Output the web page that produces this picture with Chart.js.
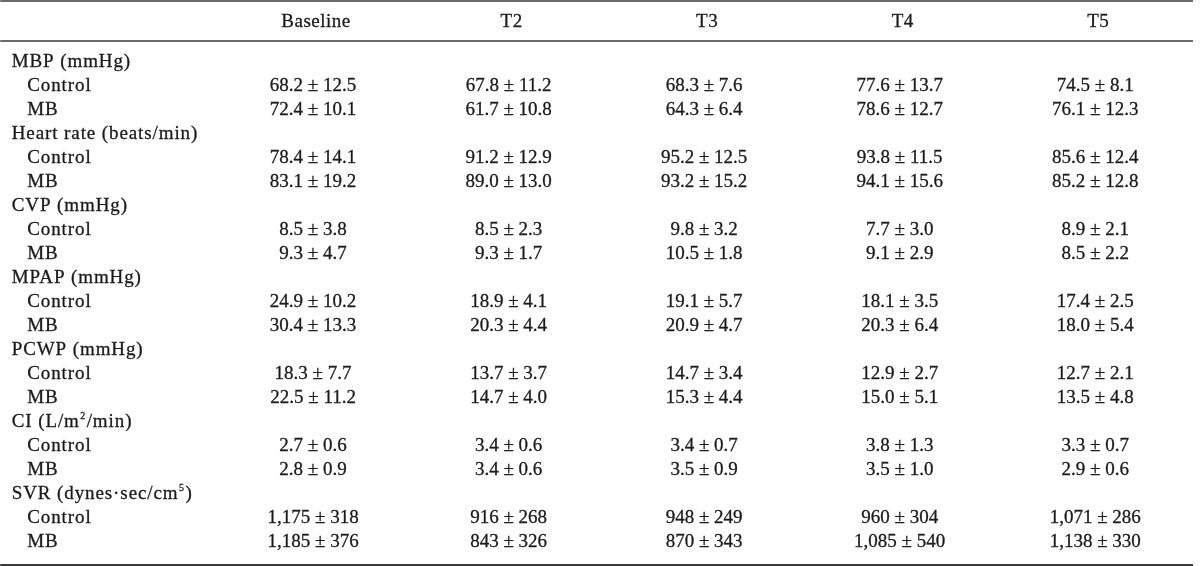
<!DOCTYPE html>
<html><head><meta charset="utf-8">
<script src="https://cdn.jsdelivr.net/npm/chart.js@4.4.1/dist/chart.umd.min.js"></script>
<style>html,body{margin:0;padding:0;background:#fff;}#wrap{width:1200px;height:566px;position:relative;}</style>
</head><body><div id="wrap"><canvas id="c" width="1200" height="566"></canvas></div>
<script>
// ---- data ----
const columns = ['Baseline', 'T2', 'T3', 'T4', 'T5'];
const groups = ['MBP (mmHg)', 'Heart rate (beats/min)', 'CVP (mmHg)', 'MPAP (mmHg)', 'PCWP (mmHg)', 'CI (L/m^2/min)', 'SVR (dynes\u00b7sec/cm^5)'];
const subgroups = ['Control', 'MB'];
const decimals = [1, 1, 1, 1, 1, 1, 0];

const mbpControlMean = [68.2, 67.8, 68.3, 77.6, 74.5];
const mbpControlSD   = [12.5, 11.2, 7.6, 13.7, 8.1];
const mbpMBMean      = [72.4, 61.7, 64.3, 78.6, 76.1];
const mbpMBSD        = [10.1, 10.8, 6.4, 12.7, 12.3];

const hrControlMean = [78.4, 91.2, 95.2, 93.8, 85.6];
const hrControlSD   = [14.1, 12.9, 12.5, 11.5, 12.4];
const hrMBMean      = [83.1, 89.0, 93.2, 94.1, 85.2];
const hrMBSD        = [19.2, 13.0, 15.2, 15.6, 12.8];

const cvpControlMean = [8.5, 8.5, 9.8, 7.7, 8.9];
const cvpControlSD   = [3.8, 2.3, 3.2, 3.0, 2.1];
const cvpMBMean      = [9.3, 9.3, 10.5, 9.1, 8.5];
const cvpMBSD        = [4.7, 1.7, 1.8, 2.9, 2.2];

const mpapControlMean = [24.9, 18.9, 19.1, 18.1, 17.4];
const mpapControlSD   = [10.2, 4.1, 5.7, 3.5, 2.5];
const mpapMBMean      = [30.4, 20.3, 20.9, 20.3, 18.0];
const mpapMBSD        = [13.3, 4.4, 4.7, 6.4, 5.4];

const pcwpControlMean = [18.3, 13.7, 14.7, 12.9, 12.7];
const pcwpControlSD   = [7.7, 3.7, 3.4, 2.7, 2.1];
const pcwpMBMean      = [22.5, 14.7, 15.3, 15.0, 13.5];
const pcwpMBSD        = [11.2, 4.0, 4.4, 5.1, 4.8];

const ciControlMean = [2.7, 3.4, 3.4, 3.8, 3.3];
const ciControlSD   = [0.6, 0.6, 0.7, 1.3, 0.7];
const ciMBMean      = [2.8, 3.4, 3.5, 3.5, 2.9];
const ciMBSD        = [0.9, 0.6, 0.9, 1.0, 0.6];

const svrControlMean = [1175, 916, 948, 960, 1071];
const svrControlSD   = [318, 268, 249, 304, 286];
const svrMBMean      = [1185, 843, 870, 1085, 1138];
const svrMBSD        = [376, 326, 343, 540, 330];

const groupSeries = [
  [[mbpControlMean, mbpControlSD], [mbpMBMean, mbpMBSD]],
  [[hrControlMean, hrControlSD], [hrMBMean, hrMBSD]],
  [[cvpControlMean, cvpControlSD], [cvpMBMean, cvpMBSD]],
  [[mpapControlMean, mpapControlSD], [mpapMBMean, mpapMBSD]],
  [[pcwpControlMean, pcwpControlSD], [pcwpMBMean, pcwpMBSD]],
  [[ciControlMean, ciControlSD], [ciMBMean, ciMBSD]],
  [[svrControlMean, svrControlSD], [svrMBMean, svrMBSD]]
];

// ---- layout constants (style, not data) ----
const ROW_PX = 24;
const FIRST_ROW_PX = 61;
const HEADER_ROW = -40 / 24;
const RULES = [{y: -2.5, w: 1.5}, {y: -20 / 24, w: 1.4}, {y: 21, w: 2}];
const FONT_PX = 19;
const TEXT_COLOR = '#1c1a1a';
const RULE_COLOR = '#3a3a3a';

function fmt(v, d) {
  return v.toLocaleString('en-US', {minimumFractionDigits: d, maximumFractionDigits: d});
}

// build points
const headerPts = columns.map((c, i) => ({x: i + 1, y: HEADER_ROW, text: c}));
const labelPts = [];
const cellPts = [];
let r = 0;
groups.forEach((g, gi) => {
  labelPts.push({x: -0.5, y: r, text: g, indent: 0});
  r++;
  subgroups.forEach((s, si) => {
    labelPts.push({x: -0.5, y: r, text: s, indent: 1});
    const [means, sds] = groupSeries[gi][si];
    means.forEach((m, ci) => {
      cellPts.push({x: ci + 1, y: r, text: fmt(m, decimals[gi]) + ' \u00b1 ' + fmt(sds[ci], decimals[gi])});
    });
    r++;
  });
});

const ruleSets = RULES.map(rl => ({
  type: 'line', data: [{x: -0.6, y: rl.y}, {x: 5.5, y: rl.y}],
  borderColor: RULE_COLOR, borderWidth: rl.w, pointRadius: 0, clip: false, isRule: true
}));

function drawRich(ctx, text, x, y, align, spacing) {
  // supports ^X superscripts
  const parts = [];
  let buf = '';
  for (let i = 0; i < text.length; i++) {
    if (text[i] === '^' && i + 1 < text.length) {
      if (buf) parts.push({t: buf, sup: false});
      buf = '';
      parts.push({t: text[i + 1], sup: true});
      i++;
    } else buf += text[i];
  }
  if (buf) parts.push({t: buf, sup: false});
  const mainFont = FONT_PX + 'px "Liberation Serif", serif';
  const supFont = Math.round(FONT_PX * 0.55) + 'px "Liberation Serif", serif';
  ctx.letterSpacing = spacing + 'px';
  let total = 0;
  parts.forEach(p => { ctx.font = p.sup ? supFont : mainFont; p.w = ctx.measureText(p.t).width + (p.sup ? 1 : 0); total += p.w; });
  let cx = align === 'center' ? x - total / 2 : x;
  ctx.textAlign = 'left';
  ctx.textBaseline = 'alphabetic';
  ctx.lineWidth = 0.3;
  ctx.strokeStyle = TEXT_COLOR;
  parts.forEach(p => {
    ctx.font = p.sup ? supFont : mainFont;
    const yy = p.sup ? y - FONT_PX * 0.42 : y;
    ctx.fillText(p.t, cx + (p.sup ? 0.5 : 0), yy);
    ctx.strokeText(p.t, cx + (p.sup ? 0.5 : 0), yy);
    cx += p.w;
  });
  ctx.letterSpacing = '0px';
}

const tablePlugin = {
  id: 'tableText',
  afterDatasetsDraw(chart) {
    const ctx = chart.ctx;
    ctx.save();
    ctx.fillStyle = TEXT_COLOR;
    chart.data.datasets.forEach((ds, di) => {
      if (ds.isRule) return;
      const meta = chart.getDatasetMeta(di);
      meta.data.forEach((el, i) => {
        const p = ds.data[i];
        const base = el.y + FONT_PX * 0.34;
        if (ds.kind === 'label') {
          drawRich(ctx, p.text, el.x - 8 + (p.indent ? 15.5 : 0), base, 'left', 0.9);
        } else if (ds.kind === 'header') {
          drawRich(ctx, p.text, el.x + 3, base, 'center', 0.5);
        } else {
          drawRich(ctx, p.text, el.x, base, 'center', 0);
        }
      });
    });
    ctx.restore();
  }
};

const yMin = -FIRST_ROW_PX / ROW_PX;
const yMax = yMin + 566 / ROW_PX;

new Chart(document.getElementById('c'), {
  type: 'scatter',
  data: {
    datasets: [
      ...ruleSets,
      {kind: 'header', data: headerPts, pointRadius: 0},
      {kind: 'label', data: labelPts, pointRadius: 0},
      {kind: 'cell', data: cellPts, pointRadius: 0}
    ]
  },
  options: {
    responsive: false,
    animation: false,
    events: [],
    layout: {padding: {left: 19.75, right: 7, top: 0, bottom: 0}},
    plugins: {legend: {display: false}, tooltip: {enabled: false}},
    scales: {
      x: {type: 'linear', min: -0.5, max: 5.5, display: false},
      y: {type: 'linear', min: yMin, max: yMax, reverse: true, display: false}
    }
  },
  plugins: [tablePlugin]
});
</script>
</body></html>
